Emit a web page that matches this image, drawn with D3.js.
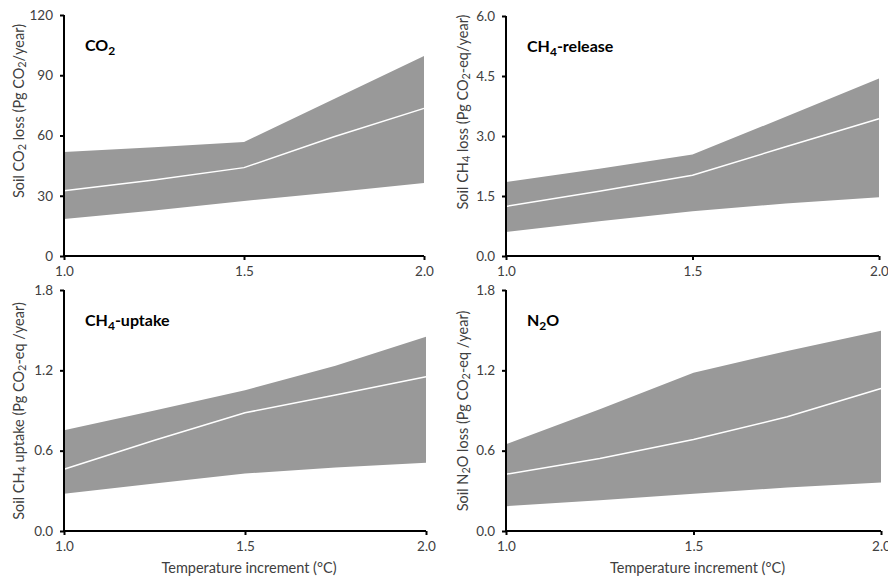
<!DOCTYPE html>
<html>
<head>
<meta charset="utf-8">
<script src="https://cdn.jsdelivr.net/npm/d3@7"></script>
<style>
  body { margin: 0; background: #fff; }
  svg { display: block; font-family: Lato, "Open Sans", sans-serif; }
  .tick text { fill: #404040; font-size: 13.5px; }
</style>
</head>
<body>
<svg id="chart" width="888" height="579"></svg>
<script>
// temperature increments (x values)
const temps = [1.0, 1.25, 1.5, 1.75, 2.0];

// CO2 loss (Pg CO2/year)
const co2Low  = [18.4, 22.6, 27.4, 31.7, 36.3];
const co2Mean = [32.5, 37.8, 44.0, 59.4, 73.5];
const co2High = [51.8, 54.1, 56.8, 78.2, 99.6];

// CH4 release (Pg CO2-eq/year)
const ch4rLow  = [0.60, 0.87, 1.12, 1.31, 1.47];
const ch4rMean = [1.24, 1.62, 2.02, 2.73, 3.43];
const ch4rHigh = [1.85, 2.18, 2.54, 3.48, 4.44];

// CH4 uptake (Pg CO2-eq/year)
const ch4uLow  = [0.279, 0.354, 0.429, 0.474, 0.509];
const ch4uMean = [0.461, 0.678, 0.883, 1.015, 1.152];
const ch4uHigh = [0.753, 0.900, 1.052, 1.235, 1.451];

// N2O loss (Pg CO2-eq/year)
const n2oLow  = [0.185, 0.229, 0.279, 0.324, 0.362];
const n2oMean = [0.424, 0.541, 0.683, 0.853, 1.065];
const n2oHigh = [0.648, 0.910, 1.182, 1.345, 1.496];

// tick labels
const xTicks = [1.0, 1.5, 2.0];
const co2Ticks = [0, 30, 60, 90, 120];
const ch4rTicks = [0, 1.5, 3.0, 4.5, 6.0];
const smallTicks = [0, 0.6, 1.2, 1.8];

const svg = d3.select("#chart");

// panel layout: x pixel range, y pixel range
const panels = [
  { low: co2Low, mean: co2Mean, high: co2High, yMax: 120, ticks: co2Ticks, fmt: d3.format("d"),
    x: [64, 424], y: [256, 15], labelX: 18, labelY: 111,
    titleParts: [["CO", false], ["2", true]],
    labelParts: [["Soil CO", false], ["2", true], [" loss (Pg CO", false], ["2", true], ["/year)", false]] },
  { low: ch4rLow, mean: ch4rMean, high: ch4rHigh, yMax: 6, ticks: ch4rTicks, fmt: d3.format(".1f"),
    x: [506, 879], y: [256, 16], labelX: 462, labelY: 112,
    titleParts: [["CH", false], ["4", true], ["-release", false]],
    labelParts: [["Soil CH", false], ["4", true], [" loss (Pg CO", false], ["2", true], ["-eq/year)", false]] },
  { low: ch4uLow, mean: ch4uMean, high: ch4uHigh, yMax: 1.8, ticks: smallTicks, fmt: d3.format(".1f"),
    x: [64, 426], y: [531, 290], labelX: 18, labelY: 411, xTitle: true,
    titleParts: [["CH", false], ["4", true], ["-uptake", false]],
    labelParts: [["Soil CH", false], ["4", true], [" uptake (Pg CO", false], ["2", true], ["-eq /year)", false]] },
  { low: n2oLow, mean: n2oMean, high: n2oHigh, yMax: 1.8, ticks: smallTicks, fmt: d3.format(".1f"),
    x: [506, 881], y: [531, 290], labelX: 462, labelY: 411, xTitle: true,
    titleParts: [["N", false], ["2", true], ["O", false]],
    labelParts: [["Soil N", false], ["2", true], ["O loss (Pg CO", false], ["2", true], ["-eq /year)", false]] }
];

function addParts(text, parts) {
  parts.forEach(([t, sub]) => {
    text.append("tspan")
      .attr("baseline-shift", sub ? "-30%" : null)
      .attr("font-size", sub ? "0.75em" : null)
      .text(t);
  });
}

panels.forEach(p => {
  const xScale = d3.scaleLinear().domain([1, 2]).range(p.x);
  const yScale = d3.scaleLinear().domain([0, p.yMax]).range(p.y);
  const rows = temps.map((t, i) => ({ t: t, low: p.low[i], mean: p.mean[i], high: p.high[i] }));

  // uncertainty band
  svg.append("path")
    .datum(rows)
    .attr("fill", "#999999")
    .attr("d", d3.area()
      .x(d => xScale(d.t))
      .y0(d => yScale(d.low))
      .y1(d => yScale(d.high)));

  // mean line
  svg.append("path")
    .datum(rows)
    .attr("fill", "none")
    .attr("stroke", "#ffffff")
    .attr("stroke-width", 1.5)
    .attr("d", d3.line().x(d => xScale(d.t)).y(d => yScale(d.mean)));

  // axes
  const xAxis = svg.append("g")
    .attr("transform", "translate(0," + p.y[0] + ")")
    .call(d3.axisBottom(xScale).tickValues(xTicks).tickFormat(d3.format(".1f")).tickSize(4).tickPadding(6));
  const yAxis = svg.append("g")
    .attr("transform", "translate(" + p.x[0] + ",0)")
    .call(d3.axisLeft(yScale).tickValues(p.ticks).tickFormat(p.fmt).tickSize(4).tickPadding(7));
  [xAxis, yAxis].forEach(a => {
    a.select(".domain").attr("stroke", "#000").attr("stroke-width", 2);
    a.selectAll(".tick line").attr("stroke", "#000").attr("stroke-width", 2);
    a.attr("font-family", null).attr("font-size", null);
  });
  yAxis.select(".domain").attr("d", "M0," + p.y[0] + "V" + p.y[1]);
  xAxis.select(".domain").attr("d", "M" + p.x[0] + ",0H" + p.x[1]);

  // panel title
  const title = svg.append("text")
    .attr("x", p.x[0] + 21)
    .attr("y", p.y[1] + 36)
    .attr("font-weight", "bold")
    .attr("font-size", 16)
    .attr("fill", "#000");
  addParts(title, p.titleParts);

  // y axis label
  const yLabel = svg.append("text")
    .attr("transform", "translate(" + p.labelX + "," + p.labelY + ") rotate(-90)")
    .attr("text-anchor", "middle")
    .attr("dominant-baseline", "central")
    .attr("font-size", 14.5)
    .attr("fill", "#404040");
  addParts(yLabel, p.labelParts);

  // x axis label
  if (p.xTitle) {
    svg.append("text")
      .attr("x", (p.x[0] + p.x[1]) / 2 + 4)
      .attr("y", 573)
      .attr("text-anchor", "middle")
      .attr("font-size", 14.5)
      .attr("fill", "#404040")
      .text("Temperature increment (°C)");
  }
});
</script>
</body>
</html>
